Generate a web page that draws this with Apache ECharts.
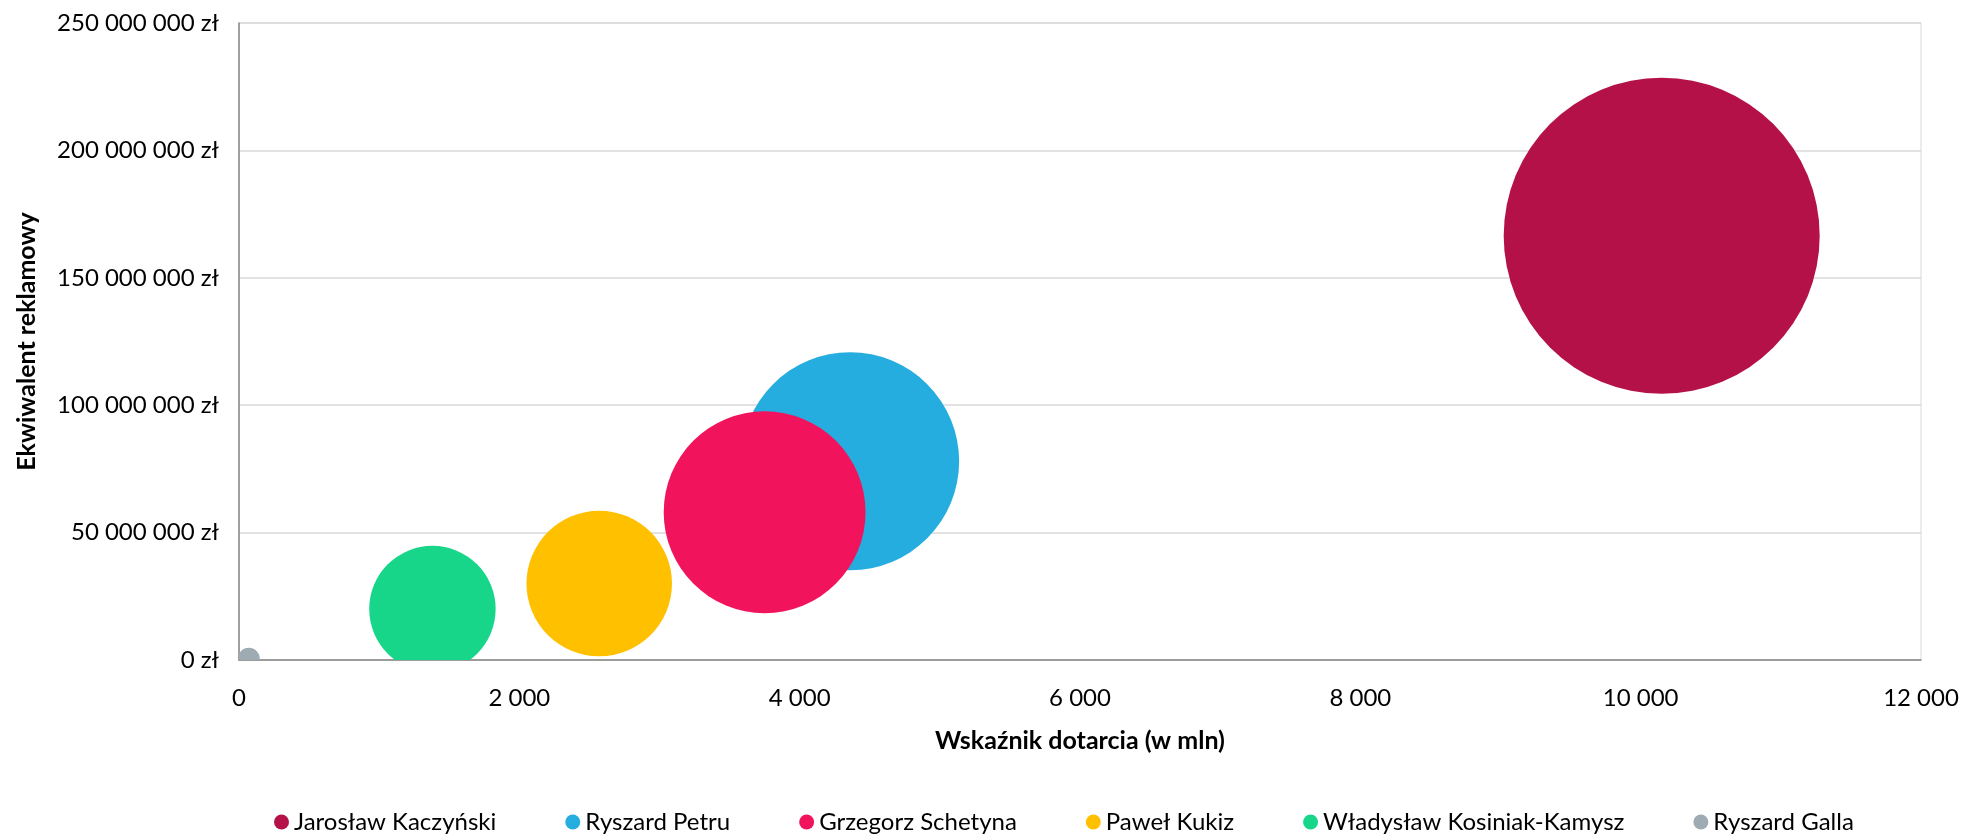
<!DOCTYPE html>
<html>
<head>
<meta charset="utf-8">
<script src="https://cdn.jsdelivr.net/npm/echarts@6/dist/echarts.min.js"></script>
<style>
  html, body { margin: 0; padding: 0; background: #fff; }
  #chart { width: 1962px; height: 834px; }
</style>
</head>
<body>
<div id="chart"></div>
<script>
// Kandydaci i ich wskaźniki
const candidates = ['Jarosław Kaczyński', 'Ryszard Petru', 'Grzegorz Schetyna', 'Paweł Kukiz', 'Władysław Kosiniak-Kamysz', 'Ryszard Galla'];
// Wskaźnik dotarcia (w mln)
const reach = [10150, 4360, 3750, 2570, 1380, 70];
// Ekwiwalent reklamowy (zł)
const adEquivalent = [166500000, 78000000, 58000000, 30000000, 20000000, 500000];
// Wielkość bąbla (proporcjonalna do pola)
const bubbleSize = [25000, 11900, 10200, 5300, 4000, 120];
const colors = ['#B41148', '#25ADDF', '#F2135D', '#FFC000', '#17D68A', '#9EABB3'];

const xTicks = { min: 0, max: 12000, interval: 2000 };
const yTicks = { min: 0, max: 250000000, interval: 50000000 };

const FONT = 'Lato';
const maxSize = Math.max(...bubbleSize);
const maxRadius = 158;

function spaced(n) {
  return String(Math.round(n)).replace(/\B(?=(\d{3})+(?!\d))/g, ' ');
}

const chart = echarts.init(document.getElementById('chart'), null, { renderer: 'canvas' });

const series = candidates.map((name, i) => ({
  name: name,
  type: 'custom',
  clip: true,
  legendIcon: 'circle',
  itemStyle: { color: colors[i] },
  data: [[reach[i], adEquivalent[i], bubbleSize[i]]],
  renderItem: function (params, api) {
    const c = api.coord([api.value(0), api.value(1)]);
    const r = maxRadius * Math.sqrt(api.value(2) / maxSize);
    return {
      type: 'circle',
      shape: { cx: c[0], cy: c[1], r: r },
      style: { fill: api.visual('color') }
    };
  }
}));

chart.setOption({
  animation: false,
  backgroundColor: '#fff',
  textStyle: { fontFamily: FONT },
  grid: {
    left: 239, right: 41, top: 23, bottom: 174,
    show: true, borderColor: '#d9d9d9', borderWidth: 1, backgroundColor: 'transparent'
  },
  legend: {
    left: 269, top: 805,
    icon: 'circle', itemWidth: 15, itemHeight: 15, itemGap: 69,
    textStyle: { fontFamily: FONT, fontSize: 24, color: '#000' },
    data: candidates
  },
  xAxis: {
    type: 'value',
    min: xTicks.min, max: xTicks.max, interval: xTicks.interval,
    name: 'Wskaźnik dotarcia (w mln)',
    nameLocation: 'middle', nameGap: 68,
    nameTextStyle: { fontFamily: FONT, fontSize: 25, fontWeight: 'bold', color: '#000' },
    axisLine: { show: true, lineStyle: { color: '#868686', width: 1.5 } },
    axisTick: { show: false },
    splitLine: { show: false },
    axisLabel: {
      fontFamily: FONT, fontSize: 24, color: '#000', margin: 26,
      formatter: v => spaced(v)
    }
  },
  yAxis: {
    type: 'value',
    min: yTicks.min, max: yTicks.max, interval: yTicks.interval,
    name: 'Ekwiwalent reklamowy',
    nameLocation: 'middle', nameGap: 200, nameRotate: 90,
    nameTextStyle: { fontFamily: FONT, fontSize: 25, fontWeight: 'bold', color: '#000' },
    axisLine: { show: true, lineStyle: { color: '#868686', width: 1.5 } },
    axisTick: { show: false },
    splitLine: { show: true, lineStyle: { color: '#d9d9d9', width: 1.5 } },
    axisLabel: {
      fontFamily: FONT, fontSize: 24, color: '#000', margin: 20,
      formatter: v => spaced(v) + ' zł'
    }
  },
  series: series
});
</script>
</body>
</html>
